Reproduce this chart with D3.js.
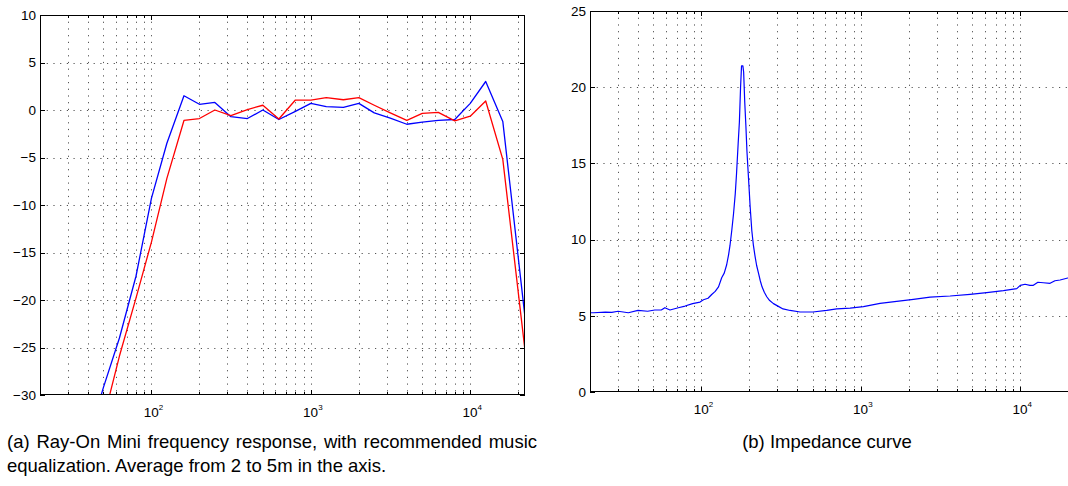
<!DOCTYPE html>
<html><head><meta charset="utf-8">
<script src="https://cdn.jsdelivr.net/npm/d3@7"></script>
<style>
body{margin:0;background:#fff;}
svg{display:block;font-family:"Liberation Sans",Arial,Helvetica,sans-serif;}
</style>
</head><body>
<svg id="c" width="1068" height="486"></svg>
<script>
// ---- data ----
const bandFreqs = [40,50,63,80,100,125,160,200,250,315,400,500,630,800,1000,1250,1600,2000,2500,3150,4000,5000,6300,8000,10000,12500,16000,22050];
const responseBlue = [-34.7,-29.2,-24.0,-17.5,-9.3,-3.5,1.5,0.6,0.8,-0.7,-0.9,0.0,-1.0,-0.15,0.7,0.35,0.27,0.7,-0.3,-0.85,-1.5,-1.28,-1.1,-1.0,0.7,3.0,-1.2,-21.8];
const responseRed  = [-38.0,-32.6,-25.9,-19.8,-13.9,-7.2,-1.1,-0.9,0.0,-0.6,0.05,0.5,-0.95,1.05,1.05,1.3,1.08,1.3,0.5,-0.3,-1.1,-0.35,-0.25,-1.15,-0.65,0.95,-5.2,-25.3];

const impedanceFreqs = [20,21,25,27.4,30,34.8,40,46,51,56,59,63.5,71.6,79,88,98,103,110,116,122,128,134,139,144,148,151,155,159,163,166,170,173,176,178.5,182,184,187,190,193,197,202,207,212,217,222,228,234,240,248,257,268,283,300,325,360,416,500,611,706,856,1038,1320,1678,2138,2718,3630,4845,6160,7840,9510,10000,10720,11500,12080,12900,13960,15380,16500,17780,19860,22050];
const impedanceOhms  = [5.2,5.2,5.24,5.23,5.3,5.2,5.36,5.3,5.38,5.38,5.53,5.38,5.53,5.64,5.8,5.9,6.05,6.15,6.4,6.6,6.9,7.5,7.8,8.35,9.0,9.6,10.6,11.7,13.0,14.3,16.3,17.7,20.0,21.4,21.4,21.0,19.0,17.5,15.8,14.2,12.2,10.6,9.6,8.9,8.3,7.8,7.3,6.9,6.55,6.25,6.0,5.8,5.65,5.45,5.35,5.25,5.25,5.35,5.45,5.5,5.6,5.82,5.95,6.08,6.23,6.3,6.41,6.52,6.65,6.78,7.0,7.07,7.0,7.0,7.2,7.17,7.13,7.3,7.35,7.48,7.6];

const freqDomain = [20, 22050];
const leftYTicks = [10,5,0,-5,-10,-15,-20,-25,-30];
const rightYTicks = [0,5,10,15,20,25];
const decadeTicks = [100,1000,10000];
const decadeExponents = ["2","3","4"];
const captionA1 = "(a) Ray-On Mini frequency response, with recommended music";
const captionA2 = "equalization. Average from 2 to 5m in the axis.";
const captionB = "(b) Impedance curve";

// ---- drawing ----
const svg = d3.select("#c");
const fmt = v => (v < 0 ? "\u2212" + Math.abs(v) : String(v));

function panel(opt) {
  const {x0, x1, y0, y1, yDomain, yTicks, series, id, lw} = opt;
  const x = d3.scaleLog().domain(freqDomain).range([x0, x1]);
  const y = d3.scaleLinear().domain(yDomain).range([y1, y0]);
  const g = svg.append("g");

  svg.append("defs").append("clipPath").attr("id", id)
    .append("rect").attr("x", x0).attr("y", y0).attr("width", x1 - x0).attr("height", y1 - y0);

  const minor = x.ticks().filter(t => t > freqDomain[0] && t < freqDomain[1]);
  const grid = g.append("g").attr("stroke", "#555").attr("stroke-width", 1)
    .attr("stroke-dasharray", "1.2,5.5").attr("fill", "none");
  minor.forEach(t => {
    const px = Math.round(x(t)) + 0.5;
    grid.append("line").attr("x1", px).attr("x2", px).attr("y1", y0).attr("y2", y1);
  });
  yTicks.filter(t => t !== yDomain[0] && t !== yDomain[1]).forEach(t => {
    const py = Math.round(y(t)) + 0.5;
    grid.append("line").attr("x1", x0).attr("x2", x1).attr("y1", py).attr("y2", py);
  });

  // ticks (inward)
  const tk = g.append("g").attr("stroke", "#000").attr("stroke-width", 1);
  minor.forEach(t => {
    const px = Math.round(x(t)) + 0.5;
    const len = decadeTicks.includes(t) ? 5 : 3;
    tk.append("line").attr("x1", px).attr("x2", px).attr("y1", y1).attr("y2", y1 - len);
    tk.append("line").attr("x1", px).attr("x2", px).attr("y1", y0).attr("y2", y0 + len);
  });
  yTicks.forEach(t => {
    const py = Math.round(y(t)) + 0.5;
    tk.append("line").attr("x1", x0).attr("x2", x0 + 5).attr("y1", py).attr("y2", py);
    tk.append("line").attr("x1", x1).attr("x2", x1 - 5).attr("y1", py).attr("y2", py);
  });

  // curves
  const line = d3.line().x(d => x(d[0])).y(d => y(d[1]));
  const cg = g.append("g").attr("clip-path", `url(#${id})`);
  series.forEach(s => {
    cg.append("path").datum(s.data).attr("d", line).attr("fill", "none")
      .attr("stroke", s.color).attr("stroke-width", lw).attr("stroke-linejoin", "round");
  });

  // box
  g.append("rect").attr("x", x0 + 0.5).attr("y", y0 + 0.5)
    .attr("width", x1 - x0 - 1).attr("height", y1 - y0 - 1)
    .attr("fill", "none").attr("stroke", "#000").attr("stroke-width", 1);

  // y labels
  yTicks.forEach(t => {
    g.append("text").attr("x", x0 - 4).attr("y", y(t)).attr("dy", "0.35em")
      .attr("text-anchor", "end").attr("font-size", 13.5).text(fmt(t));
  });
  // x labels
  decadeTicks.forEach((t, i) => {
    const tx = g.append("text").attr("x", x(t) + 2).attr("y", y1 + 22)
      .attr("text-anchor", "middle").attr("font-size", 13.5);
    tx.append("tspan").text("10");
    tx.append("tspan").attr("dy", -7).attr("font-size", 8).text(decadeExponents[i]);
  });
}

panel({
  id: "clipA", x0: 40, x1: 525, y0: 15, y1: 395, yDomain: [-30, 10], yTicks: leftYTicks, lw: 1.3,
  series: [
    {color: "#0000ff", data: bandFreqs.map((f, i) => [f, responseBlue[i]])},
    {color: "#ff0000", data: bandFreqs.map((f, i) => [f, responseRed[i]])}
  ]
});
panel({
  id: "clipB", x0: 590, x1: 1075, y0: 11, y1: 392, yDomain: [0, 25], yTicks: rightYTicks, lw: 1.2,
  series: [
    {color: "#0000ff", data: impedanceFreqs.map((f, i) => [f, impedanceOhms[i]])}
  ]
});

// captions
const capSize = 18.5;
function justified(text, x, y, width) {
  const t = svg.append("text").attr("x", x).attr("y", y).attr("font-size", capSize).text(text);
  const w = t.node().getComputedTextLength();
  const spaces = (text.match(/ /g) || []).length;
  if (spaces > 0) t.attr("word-spacing", (width - w) / spaces);
  return t;
}
justified(captionA1, 7, 448, 530);
svg.append("text").attr("x", 7).attr("y", 472).attr("font-size", capSize).text(captionA2);
svg.append("text").attr("x", 827).attr("y", 448).attr("font-size", capSize)
  .attr("text-anchor", "middle").text(captionB);
</script>
</body></html>
